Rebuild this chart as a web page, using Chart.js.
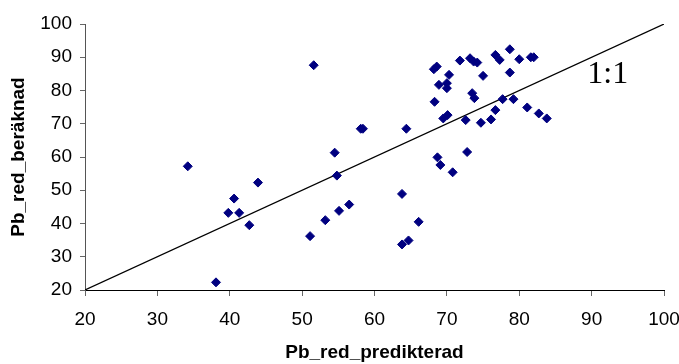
<!DOCTYPE html>
<html>
<head>
<meta charset="utf-8">
<script src="https://cdn.jsdelivr.net/npm/chart.js@4/dist/chart.umd.min.js"></script>
<style>
html,body{margin:0;padding:0;background:#fff;}
#wrap{width:679px;height:364px;}
</style>
</head>
<body>
<div id="wrap"><canvas id="c" width="679" height="364"></canvas></div>
<script>
const predikterad = [34.2,38.1,39.8,40.6,41.3,42.7,43.9,51.1,51.6,53.2,54.5,54.8,55.1,56.5,58.1,58.4,63.8,63.8,64.4,64.7,66.1,68.2,68.6,68.3,68.7,69.1,68.9,70.0,70.0,70.3,69.5,70.1,70.8,71.8,72.6,72.8,73.2,73.7,74.2,73.5,73.8,74.7,75.0,76.1,76.7,76.7,77.3,77.7,78.7,78.7,79.2,80.0,81.1,81.6,82.0,82.7,83.8];
const beraknad = [57.2,22.3,43.2,47.5,43.2,39.5,52.3,36.2,87.6,41.0,61.3,54.4,43.8,45.7,68.5,68.5,48.9,33.7,68.5,34.9,40.5,86.4,87.2,76.6,59.9,57.6,81.7,82.2,80.7,84.7,71.6,72.6,55.4,89.0,71.1,61.5,89.7,88.7,88.4,79.2,77.7,70.3,84.4,71.3,74.1,90.7,89.2,77.4,92.4,85.4,77.4,89.4,74.9,90.0,90.0,73.1,71.6];
const lineX = [20, 100];
const lineY = [20, 100];
const axisMin = 20, axisMax = 100, axisStep = 10;
const xTitle = 'Pb_red_predikterad';
const yTitle = 'Pb_red_beräknad';
const lineLabel = '1:1';
const lineLabelPos = [89.4, 82.3];

const points = predikterad.map((x, i) => ({x: x, y: beraknad[i]}));
const linePts = lineX.map((x, i) => ({x: x, y: lineY[i]}));

const labelPlugin = {
  id: 'lineLabel',
  afterDatasetsDraw(chart) {
    const ctx = chart.ctx;
    const xs = chart.scales.x, ys = chart.scales.y;
    ctx.save();
    ctx.font = '32px "Liberation Serif", "Times New Roman", serif';
    ctx.fillStyle = '#000';
    ctx.textAlign = 'left';
    ctx.textBaseline = 'alphabetic';
    ctx.fillText(lineLabel, xs.getPixelForValue(lineLabelPos[0]), ys.getPixelForValue(lineLabelPos[1]));
    ctx.restore();
  }
};

const tickFont = {family: '"Liberation Sans", Arial, sans-serif', size: 19};
const titleFont = {family: '"Liberation Sans", Arial, sans-serif', size: 19, weight: 'bold'};

new Chart(document.getElementById('c'), {
  type: 'scatter',
  data: {
    datasets: [
      {
        data: points,
        pointStyle: 'rectRot',
        pointRadius: 4.5,
        pointBorderWidth: 1,
        backgroundColor: '#000080',
        borderColor: '#000080'
      },
      {
        type: 'line',
        data: linePts,
        borderColor: '#000',
        borderWidth: 1.2,
        pointRadius: 0,
        fill: false
      }
    ]
  },
  options: {
    responsive: false,
    animation: false,
    devicePixelRatio: 1,
    layout: {padding: {left: 0, right: 15, top: 24, bottom: 0}},
    plugins: {legend: {display: false}, tooltip: {enabled: false}},
    scales: {
      x: {
        type: 'linear',
        min: axisMin, max: axisMax,
        ticks: {stepSize: axisStep, color: '#000', font: tickFont, padding: 12, maxRotation: 0},
        grid: {drawOnChartArea: false, color: '#666', tickLength: 6},
        border: {color: '#000', width: 1},
        title: {display: true, text: xTitle, color: '#000', font: titleFont, padding: {top: 0, bottom: 0}},
        afterFit(s) { s.height = 74; s.paddingLeft = 0; s.paddingRight = 0; }
      },
      y: {
        type: 'linear',
        min: axisMin, max: axisMax,
        ticks: {stepSize: axisStep, color: '#000', font: tickFont, padding: 8},
        grid: {drawOnChartArea: false, color: '#666', tickLength: 5},
        border: {color: '#555', width: 1},
        title: {display: true, text: yTitle, color: '#000', font: titleFont, padding: {top: 7, bottom: 0}},
        afterFit(s) { s.width = 85; s.paddingTop = 0; s.paddingBottom = 0; }
      }
    }
  },
  plugins: [labelPlugin]
});
</script>
</body>
</html>
